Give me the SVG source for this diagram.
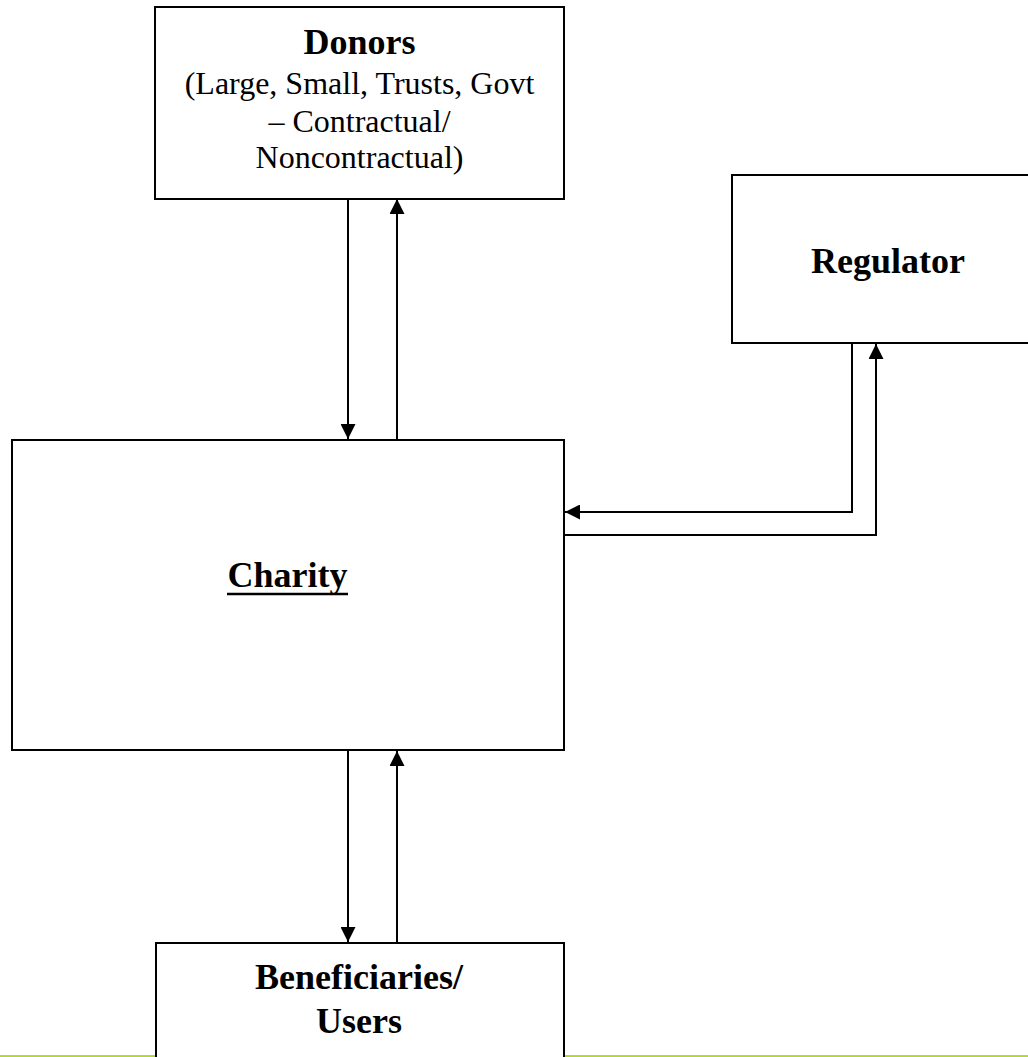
<svg xmlns="http://www.w3.org/2000/svg" width="1028" height="1057" viewBox="0 0 1028 1057">
<style>
.box{fill:#fff;stroke:#000;stroke-width:2}
.t{font-family:"Liberation Serif","Times New Roman",serif;fill:#000;text-anchor:middle}
.b{font-weight:bold;font-size:36px}
.r{font-size:32px}
.c{fill:none;stroke:#000;stroke-width:2}
</style>
<defs>
<marker id="ah" viewBox="0 0 15 15" refX="15" refY="7.5" markerWidth="15" markerHeight="15" markerUnits="userSpaceOnUse" orient="auto">
<path d="M0,0 L15,7.5 L0,15 Z" fill="#000"/>
</marker>
</defs>
<rect width="1028" height="1057" fill="#fff"/>
<line x1="0" y1="1056" x2="156" y2="1056" stroke="#b5d92c" stroke-width="2"/>
<line x1="564" y1="1056" x2="1028" y2="1056" stroke="#b5d92c" stroke-width="2"/>
<g id="donors">
<rect class="box" x="155" y="7" width="409" height="192"/>
<text class="t b" x="359.5" y="54">Donors</text>
<text class="t r" x="359.5" y="94">(Large, Small, Trusts, Govt</text>
<text class="t r" x="359.5" y="132">– Contractual/</text>
<text class="t r" x="359.5" y="168">Noncontractual)</text>
</g>
<g id="regulator">
<rect class="box" x="732" y="175" width="320" height="168"/>
<text class="t b" x="888" y="273">Regulator</text>
</g>
<g id="charity">
<rect class="box" x="12" y="440" width="552" height="310"/>
<text class="t b" x="287.5" y="587">Charity</text>
<line x1="227" y1="594" x2="348" y2="594" stroke="#000" stroke-width="2.5"/>
</g>
<g id="beneficiaries">
<rect class="box" x="156" y="943" width="408" height="130"/>
<text class="t b" x="359" y="989">Beneficiaries/</text>
<text class="t b" x="359" y="1033">Users</text>
</g>
<g id="connectors">
<line class="c" x1="348" y1="199" x2="348" y2="439" marker-end="url(#ah)"/>
<line class="c" x1="397" y1="439" x2="397" y2="199" marker-end="url(#ah)"/>
<line class="c" x1="348" y1="750" x2="348" y2="942" marker-end="url(#ah)"/>
<line class="c" x1="397" y1="943" x2="397" y2="751" marker-end="url(#ah)"/>
<polyline class="c" points="852,343 852,512 565,512" marker-end="url(#ah)"/>
<polyline class="c" points="564,535 876,535 876,344" marker-end="url(#ah)"/>
</g>
</svg>
